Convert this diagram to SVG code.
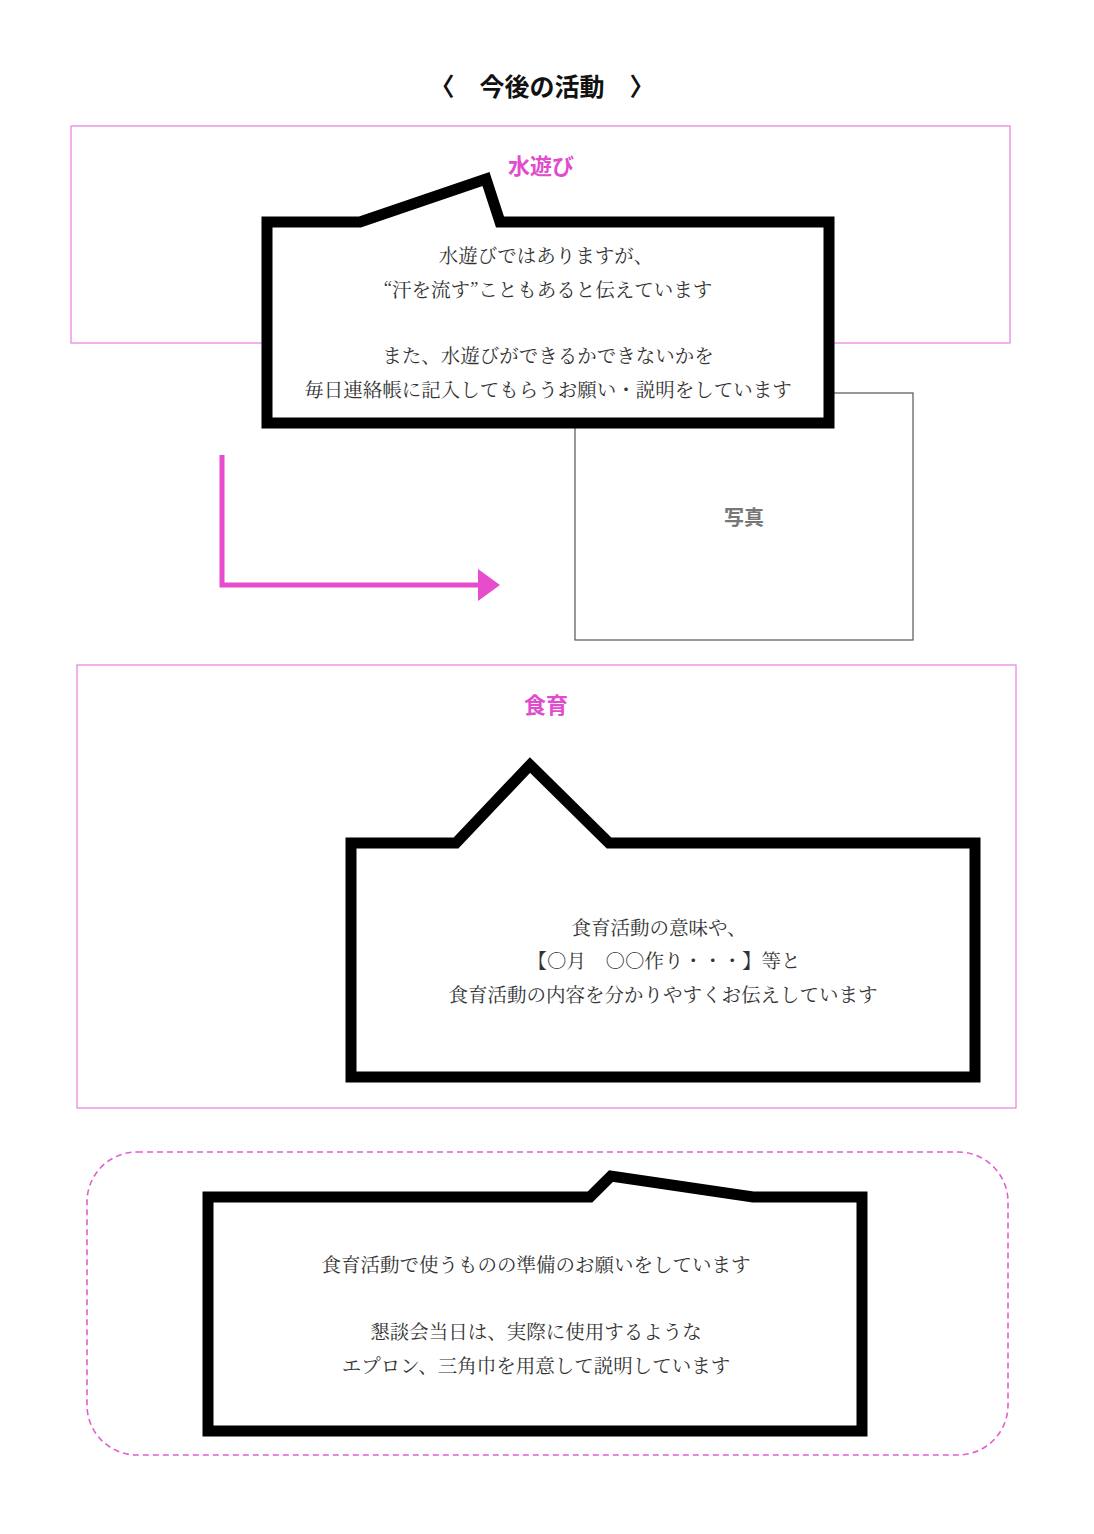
<svg xmlns="http://www.w3.org/2000/svg" width="1094" height="1534" viewBox="0 0 1094 1534">
<style>
.frame{fill:none;stroke:#e77fdc;stroke-width:1.2}
.dash{fill:none;stroke:#e15fd0;stroke-width:1.6;stroke-dasharray:6 4}
.callout{fill:#fff;stroke:#000;stroke-width:11;stroke-linejoin:miter}
.body{font-family:"Noto Serif CJK JP","Noto Sans CJK JP",serif;font-size:19.5px;fill:#333;text-anchor:middle}
.head{font-family:"Noto Sans CJK JP",sans-serif;font-weight:bold;font-size:22px;fill:#e04ccc;text-anchor:middle}
.title{font-family:"Noto Sans CJK JP",sans-serif;font-weight:bold;font-size:25px;fill:#111;text-anchor:middle}
.photo{fill:#fff;stroke:#555;stroke-width:1.2}
.phototxt{font-family:"Noto Sans CJK JP",sans-serif;font-weight:bold;font-size:20px;fill:#777;text-anchor:middle}
</style>
<rect width="1094" height="1534" fill="#fff"/>
<text id="title" class="title" x="542" y="96">〈　今後の活動　〉</text>

<g id="section-water">
<rect class="frame" x="71" y="126" width="939" height="217"/>
<text class="head" x="541" y="174">水遊び</text>
</g>

<g id="photo">
<rect class="photo" x="575" y="393" width="338" height="247"/>
<text class="phototxt" x="744" y="525">写真</text>
</g>

<g id="callout-water">
<path class="callout" d="M267,222 L360,222 L486,179 L500,222 L829,222 L829,423 L267,423 Z"/>
<text class="body" x="546" y="263">水遊びではありますが、</text>
<text class="body" x="548" y="297">“汗を流す”こともあると伝えています</text>
<text class="body" x="548" y="363">また、水遊びができるかできないかを</text>
<text class="body" x="548" y="397">毎日連絡帳に記入してもらうお願い・説明をしています</text>
</g>

<g id="connectors">
<path d="M222,455 L222,585 L480,585" fill="none" stroke="#e64ccc" stroke-width="5"/>
<polygon points="478,569 500,585 478,601" fill="#e64ccc"/>
</g>

<g id="section-food">
<rect class="frame" x="77" y="665" width="939" height="443"/>
<text class="head" x="546" y="713">食育</text>
</g>

<g id="callout-food">
<path class="callout" d="M351,843 L456,843 L530,765 L609,843 L975,843 L975,1077 L351,1077 Z"/>
<text class="body" x="659" y="935">食育活動の意味や、</text>
<text class="body" x="664" y="968">【○月　○○作り・・・】等と</text>
<text class="body" x="663" y="1002">食育活動の内容を分かりやすくお伝えしています</text>
</g>

<g id="section-prep">
<rect class="dash" x="87" y="1152" width="921" height="303" rx="50" ry="50"/>
</g>

<g id="callout-prep">
<path class="callout" d="M208,1197 L590,1197 L611,1176 L753,1197 L862,1197 L862,1431 L208,1431 Z"/>
<text class="body" x="536" y="1272">食育活動で使うものの準備のお願いをしています</text>
<text class="body" x="536" y="1339">懇談会当日は、実際に使用するような</text>
<text class="body" x="536" y="1373">エプロン、三角巾を用意して説明しています</text>
</g>
</svg>
